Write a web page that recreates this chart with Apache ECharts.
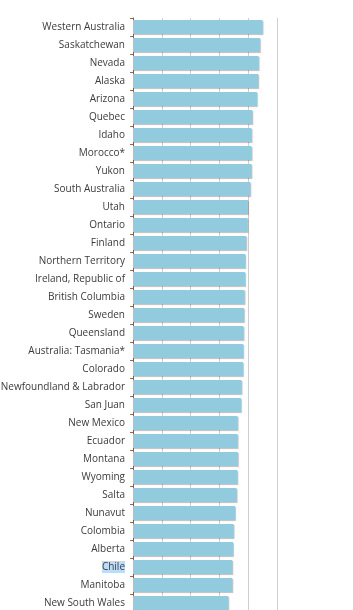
<!DOCTYPE html>
<html lang="en">
<head>
    <meta charset="UTF-8">
    <title>Investment attractiveness</title>
    <script src="https://cdn.jsdelivr.net/npm/echarts@6/dist/echarts.min.js"></script>
    <style>
        html, body { margin: 0; padding: 0; background: #fff; }
    </style>
</head>
<body>
    <div id="main" style="width: 353px;height:610px;"></div>
    <script type="text/javascript">
        // 类别（从上到下）
        var regions = ['Western Australia', 'Saskatchewan', 'Nevada', 'Alaska', 'Arizona', 'Quebec',
            'Idaho', 'Morocco*', 'Yukon', 'South Australia', 'Utah', 'Ontario', 'Finland',
            'Northern Territory', 'Ireland, Republic of', 'British Columbia', 'Sweden', 'Queensland',
            'Australia: Tasmania*', 'Colorado', 'Newfoundland & Labrador', 'San Juan', 'New Mexico',
            'Ecuador', 'Montana', 'Wyoming', 'Salta', 'Nunavut', 'Colombia', 'Alberta', 'Chile',
            'Manitoba', 'New South Wales'];
        var scores = [89.9, 88.1, 87.2, 86.9, 86.0, 82.8, 82.3, 82.3, 82.2, 81.4, 79.8, 79.5, 78.6,
            77.9, 77.8, 77.4, 77.0, 76.7, 76.5, 76.3, 75.3, 74.9, 72.6, 72.6, 72.8, 72.4, 71.9,
            70.8, 69.8, 69.4, 68.9, 68.9, 66.1];
        var highlighted = 'Chile';

        var myChart = echarts.init(document.getElementById('main'));

        var option = {
            animation: false,
            grid: { left: 133, right: 76, top: 18, bottom: -2, containLabel: false, outerBoundsMode: 'none' },
            xAxis: {
                type: 'value',
                min: 0,
                max: 100,
                interval: 20,
                axisLabel: { show: false },
                axisLine: { show: false },
                axisTick: { show: false },
                splitLine: { show: true, lineStyle: { color: '#cfcfcf', width: 1 } }
            },
            yAxis: {
                type: 'category',
                inverse: true,
                data: regions,
                axisLine: { show: true, lineStyle: { color: '#666', width: 1 } },
                axisTick: { show: true, length: 3, lineStyle: { color: '#8a6a6a' } },
                axisLabel: {
                    color: '#3a3a3a',
                    fontFamily: 'Open Sans',
                    fontSize: 10,
                    margin: 8,
                    formatter: function (v) {
                        return v === highlighted ? '{hl|' + v + '}' : v;
                    },
                    rich: {
                        hl: {
                            color: '#2a4660',
                            fontFamily: 'Open Sans',
                            fontSize: 10,
                            backgroundColor: '#c3dbee',
                            padding: [1, 0, 1, 0]
                        }
                    }
                }
            },
            series: [{
                type: 'bar',
                data: scores,
                barCategoryGap: '22%',
                itemStyle: {
                    color: '#93cbde',
                    shadowColor: 'rgba(0,0,0,0.25)',
                    shadowBlur: 1,
                    shadowOffsetX: 1,
                    shadowOffsetY: 1
                }
            }]
        };

        myChart.setOption(option);
    </script>
</body>
</html>
